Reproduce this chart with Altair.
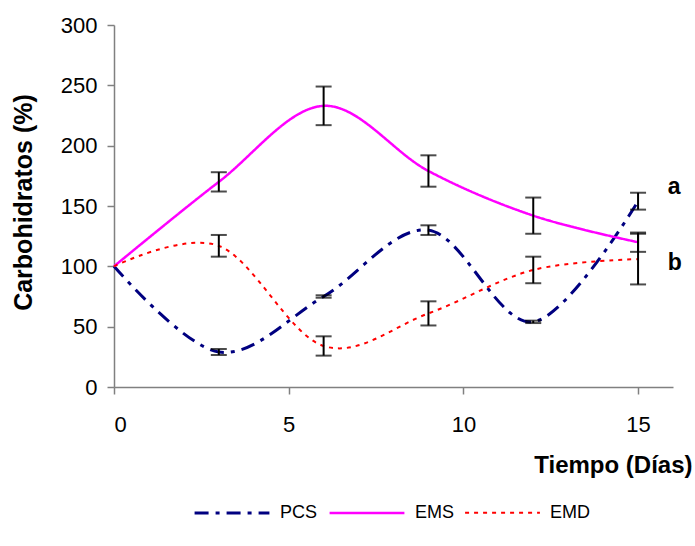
import altair as alt
import pandas as pd

days = [0, 3, 6, 9, 12, 15]
series_names = ["PCS", "EMS", "EMD"]
pcs = [100, 29, 75, 130, 54, 154]
pcs_err = [0, 2.5, 1, 4, 1, 7]
ems = [100, 170, 233, 179, 142, 120]
ems_err = [0, 8, 16, 13, 15, 8]
emd = [100, 117, 34, 61, 97, 106]
emd_err = [0, 9, 8, 10, 11, 21]

label_text = ["a", "b"]
label_x = [15.85, 15.85]
label_y = [166, 103]

colors = ["#000080", "#FF00FF", "#FF0000"]
dashes = [[14, 7, 4, 7], [1, 0], [4, 5]]
widths = [3, 2, 3]

rows = []
for name, vals, errs in zip(series_names, [pcs, ems, emd], [pcs_err, ems_err, emd_err]):
    for d, v, e in zip(days, vals, errs):
        rows.append({"serie": name, "dia": d, "valor": v, "err": e,
                     "lo": v - e, "hi": v + e})
df = pd.DataFrame(rows)
lab = pd.DataFrame({"t": label_text, "x": label_x, "y": label_y})

FONT = "Liberation Sans"

xscale = alt.Scale(domain=[0, 16], nice=False)
yscale = alt.Scale(domain=[0, 300], nice=False)

x_enc = alt.X("dia:Q", scale=xscale,
              axis=alt.Axis(values=[0, 5, 10, 15], title="Tiempo (Días)",
                            grid=False, domainColor="#808080", tickColor="#808080",
                            domainWidth=1.5, tickWidth=1.5,
                            tickSize=7, labelFontSize=22, labelPadding=20,
                            labelColor="black", labelFont=FONT,
                            titleFont=FONT, titleFontSize=24, titleFontWeight="bold",
                            titleColor="black",
                            titleAlign="right", titleBaseline="alphabetic",
                            titleX=578, titleY=85))
y_enc = alt.Y("valor:Q", scale=yscale,
              axis=alt.Axis(values=[0, 50, 100, 150, 200, 250, 300],
                            title="Carbohidratos (%)",
                            grid=False, domainColor="#808080", tickColor="#808080",
                            domainWidth=1.5, tickWidth=1.5,
                            tickSize=7, labelFontSize=22, labelPadding=10,
                            labelColor="black", labelFont=FONT,
                            titleFont=FONT, titleFontSize=25, titleFontWeight="bold",
                            titleColor="black",
                            titleAlign="center", titleBaseline="middle",
                            titleX=-91, titleY=177))

legend_opts = dict(title=None, orient="none", direction="horizontal",
                   legendX=79, legendY=449,
                   symbolType="stroke", symbolSize=5600,
                   symbolStrokeWidth=3,
                   labelFont=FONT, labelFontSize=18,
                   labelColor="black",
                   labelOffset=9, columnPadding=6)

lines = alt.Chart(df).mark_line(interpolate="cardinal", tension=0).encode(
    x=x_enc,
    y=y_enc,
    color=alt.Color("serie:N", sort=series_names,
                    scale=alt.Scale(domain=series_names, range=colors),
                    legend=alt.Legend(**legend_opts)),
    strokeDash=alt.StrokeDash("serie:N", sort=series_names,
                              scale=alt.Scale(domain=series_names, range=dashes),
                              legend=alt.Legend(**legend_opts)),
    strokeWidth=alt.StrokeWidth("serie:N",
                                scale=alt.Scale(domain=series_names, range=widths),
                                legend=None),
    detail="serie:N",
)

errbase = alt.Chart(df).transform_filter("datum.err > 0")
rules = errbase.mark_rule(color="black", strokeWidth=2).encode(
    x=alt.X("dia:Q", scale=xscale),
    y=alt.Y("lo:Q", scale=yscale),
    y2="hi:Q",
)
caps_lo = errbase.mark_tick(color="black", orient="horizontal", size=16,
                            thickness=2).encode(
    x=alt.X("dia:Q", scale=xscale),
    y=alt.Y("lo:Q", scale=yscale),
)
caps_hi = errbase.mark_tick(color="black", orient="horizontal", size=16,
                            thickness=2).encode(
    x=alt.X("dia:Q", scale=xscale),
    y=alt.Y("hi:Q", scale=yscale),
)

texts = alt.Chart(lab).mark_text(font=FONT, fontSize=23, fontWeight="bold",
                                 color="black", align="left",
                                 baseline="middle").encode(
    x=alt.X("x:Q", scale=xscale),
    y=alt.Y("y:Q", scale=yscale),
    text="t:N",
)

chart = alt.layer(lines, rules, caps_lo, caps_hi, texts).properties(
    width=559, height=362,
    autosize="none",
    padding={"left": 114, "top": 25, "right": 22, "bottom": 159},
    background="white",
).configure_view(stroke=None)

chart.save("out.html", embed_options={"renderer": "svg", "actions": False})
